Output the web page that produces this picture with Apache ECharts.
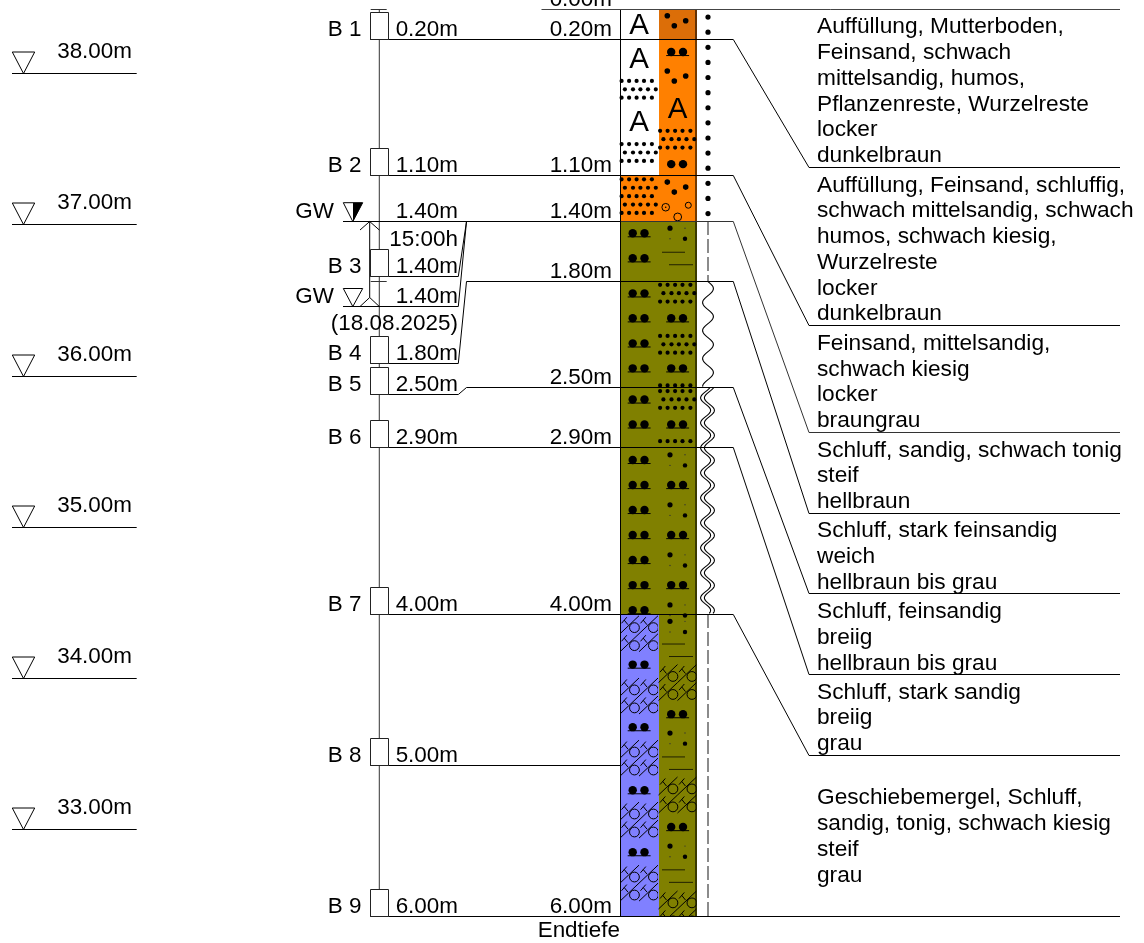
<!DOCTYPE html>
<html><head><meta charset="utf-8">
<style>html,body{margin:0;padding:0;background:#fff}#c{width:1144px;height:943px}</style>
<script src="https://cdn.jsdelivr.net/npm/echarts@6/dist/echarts.min.js"></script>
</head><body><div id="c"></div>
<script>
// ---------- data (depths in metres below ground) ----------
const groundLevel = 38.425;
const elevationLevels = [38, 37, 36, 35, 34, 33];
const layerTops  = [0, 0.2, 1.1, 1.4, 1.8, 2.5, 2.9, 4.0];
const layerBases = [0.2, 1.1, 1.4, 1.8, 2.5, 2.9, 4.0, 6.0];
const soilA = ['none','none','orange','olive','olive','olive','olive','blue'];
const soilB = ['darkorange','orange','orange','olive','olive','olive','olive','olive'];
const depthLabels = ['0.00m','0.20m','1.10m','1.40m','1.80m','2.50m','2.90m','4.00m','6.00m'];
const depthLabelValues = [0, 0.2, 1.1, 1.4, 1.8, 2.5, 2.9, 4.0, 6.0];
const leaderEnds = [1.043, 2.089, 2.796, 3.332, 3.866, 4.4, 4.933];
const descriptions = [
  ['Auffüllung, Mutterboden,','Feinsand, schwach','mittelsandig, humos,','Pflanzenreste, Wurzelreste','locker','dunkelbraun'],
  ['Auffüllung, Feinsand, schluffig,','schwach mittelsandig, schwach','humos, schwach kiesig,','Wurzelreste','locker','dunkelbraun'],
  ['Feinsand, mittelsandig,','schwach kiesig','locker','braungrau'],
  ['Schluff, sandig, schwach tonig','steif','hellbraun'],
  ['Schluff, stark feinsandig','weich','hellbraun bis grau'],
  ['Schluff, feinsandig','breiig','hellbraun bis grau'],
  ['Schluff, stark sandig','breiig','grau'],
  ['Geschiebemergel, Schluff,','sandig, tonig, schwach kiesig','steif','grau']
];
const descriptionAnchors = [1.043, 2.089, 2.796, 3.332, 3.866, 4.4, 4.933, 5.803];
const sampleNames = ['B 1','B 2','B 3','B 4','B 5','B 6','B 7','B 8','B 9'];
const sampleDepths = [0.2, 1.1, 1.4, 1.8, 2.5, 2.9, 4.0, 5.0, 6.0];
const sampleShownDepths = [0.2, 1.1, 1.769, 2.342, 2.546, 2.9, 4.0, 5.0, 6.0];
const sampleLabels = ['0.20m','1.10m','1.40m','1.80m','2.50m','2.90m','4.00m','5.00m','6.00m'];
const waterDepth = 1.4;
const waterRestShown = 1.964;
const waterTexts = ['1.40m','15:00h','1.40m','(18.08.2025)'];
const waterTextDepths = [1.4, 1.59, 1.964, 2.146];
const holeCaps = [0, 1.8];
const symbolsA = [['A',.097],['A',.318],['rows3',.528],['A',.737],['rows3',.946],['rows5',1.235],
  ['twoDots',1.48],['twoDots',1.646],['twoDots',1.878],['twoDots',2.043],['twoDots',2.209],['twoDots',2.374],
  ['twoDots',2.58],['twoDots',2.745],['twoDots',2.98],['twoDots',3.146],['twoDots',3.311],['twoDots',3.477],
  ['twoDots',3.642],['twoDots',3.808],['twoDots',3.974],
  ['hatch',4.13],['twoDots',4.334],['hatch',4.542],['twoDots',4.748],['hatch',4.953],['twoDots',5.165],
  ['hatch',5.363],['twoDots',5.575],['hatch',5.78]];
const symbolsB = [['grains',.041],['twoDots',.281],['grains',.407],['A',.649],['rows3',.858],['bigDots',1.023],
  ['grains',1.142],['gravel',1.295],['fine',1.447],['lines',1.606],['rows3',1.877],['twoDots',2.043],
  ['rows3',2.215],['twoDots',2.374],['rows1',2.487],['rows3',2.58],['twoDots',2.745],['rows1',2.856],
  ['fine',2.946],['twoDots',3.146],['fine',3.277],['twoDots',3.477],['fine',3.608],['twoDots',3.808],['fine',3.939],
  ['fine',4.048],['lines',4.198],['hatch',4.453],['twoDots',4.662],['fine',4.787],['lines',4.945],['hatch',5.197],
  ['twoDots',5.409],['fine',5.535],['lines',5.692],['hatch',5.951]];
const looseDots = [.05,.15,.25,.35,.45,.55,.65,.75,.85,.95,1.05,1.15,1.25,1.35];
const dashedRanges = [[1.4,1.8],[4.0,6.0]];
const singleWaveRanges = [[1.8,2.5]];
const doubleWaveRanges = [[2.5,4.0]];
const endLabel = 'Endtiefe';

// ---------- drawing ----------
const FONT = '"Liberation Sans", Arial, sans-serif', FS = 22.45, FSD = 22.7;
const SCALE = 151.15, TOP = 9.5;
const COL = {orange:'#FF8000', darkorange:'#DC6E08', olive:'#808000', blue:'#8080FF'};
const X = {a0:620.5, ab:659, b1:697, ca:639, cb:677.5, cons:708};
const crisp = v => Math.round(v - 0.5) + 0.5;
const poly = (pts, stroke='#000', w=1, dash) => ({type:'polyline', shape:{points:pts},
  style:{stroke, lineWidth:w, fill:'none', lineDash:dash||null, lineCap:'butt'}});
const dot = (x,y,r,fill='#000') => ({type:'circle', shape:{cx:x,cy:y,r}, style:{fill}});
const ring = (x,y,r,w=1) => ({type:'circle', shape:{cx:x,cy:y,r}, style:{fill:'none',stroke:'#000',lineWidth:w}});
function txt(x, base, s, align='left', size=FS){
  return {type:'text', x, y: base - 0.3465*size + 1.7, style:{text:s, font:size+'px '+FONT, fill:'#000',
    textAlign:align, align, textVerticalAlign:'middle', verticalAlign:'middle'}};
}
const rowOdd=[-17.4,-9.9,-2.4,5,12.9], rowEven=[-14.1,-6,1.4,9,16.8];
function dotRows(cx,cy,n,out){
  const sp=8.4;
  for(let i=0;i<n;i++){
    const y=cy+(i-(n-1)/2)*sp;
    (i%2?rowEven:rowOdd).forEach(o=>out.push(dot(cx+o,y,2.1)));
  }
}
function glyph(kind,cx,y,api,out){
  if(kind==='A'){ out.push(txt(cx,y+10.6,'A','center',29.5)); }
  else if(kind==='twoDots'||kind==='bigDots'){
    out.push(dot(cx-6.3,y,4.2),dot(cx+5.5,y,4.2));
    if(kind==='twoDots') out.push(poly([[cx-11.3,y+3.6],[cx+11.6,y+3.6]],'#000',1));
  }
  else if(kind==='grains'){ out.push(dot(cx-10.2,y,2.8),dot(cx-3.2,y+10,2.8),dot(cx+8.2,y+5,2.8)); }
  else if(kind==='gravel'){
    out.push(ring(cx-11.8,y+2,3.8),dot(cx-11.8,y+2,.8),ring(cx+10.8,y,3),ring(cx+.2,y+11.7,3.9));
  }
  else if(kind==='fine'){
    out.push(dot(cx-7.5,y,2.6),dot(cx+7.5,y+10.6,2.2),dot(cx+7.5,y,.7,'#333'),dot(cx-7.5,y+10.6,.7,'#333'));
  }
  else if(kind==='lines'){
    const c='rgba(0,0,0,.75)';
    out.push(poly([[cx-15.5,y],[cx+7.5,y]],c,1),poly([[cx-8.5,y+12.5],[cx+15.5,y+12.5]],c,1));
  }
  else if(kind==='rows1') dotRows(cx,y,1,out);
  else if(kind==='rows3') dotRows(cx,y,3,out);
  else if(kind==='rows5') dotRows(cx,y,5,out);
  else if(kind==='hatch'){
    const w=19,h=18,x0=cx-19,y0=y-18,children=[];
    for(let r=0;r<2;r++)for(let c=0;c<2;c++){
      const l=x0+c*w,t=y0+r*h;
      children.push(poly([[l,t+h],[l+w,t]],'#000',1));
      children.push(ring(l+.76*w,t+.66*h,4.9,1));
      children.push(poly([[l+.42*w,t+.5*h],[l+.22*w,t+.24*h]],'#000',1));
      children.push(poly([[l+.08*w,t+.42*h],[l+.36*w,t+.08*h]],'#000',1));
    }
    const bottom=api.coord([0,6])[1];
    out.push({type:'group',children,
      clipPath:{type:'rect',shape:{x:x0-2,y:y0-2,width:40,height:Math.min(bottom,y+20)-y0+2}}});
  }
}
function wave(api,x0,d0,d1,period,amp,shift,useCos){
  const y0=api.coord([0,d0])[1], y1=api.coord([0,d1])[1], pts=[];
  for(let y=y0;y<=y1;y+=1){
    const p=2*Math.PI*(y-y0-shift)/period;
    pts.push([x0+amp*(useCos?Math.cos(p):Math.sin(p)),y]);
  }
  return poly(pts,'#000',1.1);
}
let zc=1;
function series(name,items,draw){
  return {type:'custom',name,coordinateSystem:'cartesian2d',silent:true,animation:false,clip:false,z:zc++,
    data:items.map((_,i)=>[i,0]),encode:{x:0,y:1},
    renderItem:(p,api)=>({type:'group',children:draw(items[p.dataIndex],p.dataIndex,api)})};
}
const yOf=(api,d)=>api.coord([0,d])[1];
const yL=(api,d)=>crisp(yOf(api,d));
const yR=(api,d)=>Math.round(yOf(api,d));

const opt={
  backgroundColor:'#fff',animation:false,
  grid:{left:0,right:0,top:0,bottom:0,containLabel:false},
  xAxis:{type:'value',min:0,max:1144,show:false},
  yAxis:{type:'value',inverse:true,min:-TOP/SCALE,max:(943-TOP)/SCALE,show:false},
  series:[
    series('Kote',elevationLevels,(e,i,api)=>{
      const y=yL(api,groundLevel-e);
      return [poly([[12,y],[136.7,y]]),
        poly([[12.3,y-21.5],[34.7,y-21.5],[23.5,y],[12.3,y-21.5]],'#000',1),
        txt(132,y-15.6,e.toFixed(2)+'m','right')];
    }),
    series('Bohrachse',[0],(_,i,api)=>[poly([[379.3,yL(api,0)],[379.3,yL(api,6)]],'#333',1)]),
    series('Schicht A',layerTops,(t,i,api)=>{
      const k=soilA[i]; if(k==='none')return [];
      const a=yR(api,t),b=yR(api,layerBases[i]);
      return [{type:'rect',shape:{x:621,y:a,width:X.ab-621,height:b-a},style:{fill:COL[k]}}];
    }),
    series('Schicht B',layerTops,(t,i,api)=>{
      const a=yR(api,t),b=yR(api,layerBases[i]);
      return [{type:'rect',shape:{x:X.ab,y:a,width:X.b1-X.ab,height:b-a},style:{fill:COL[soilB[i]]}}];
    }),
    series('Symbole A',symbolsA,(s,i,api)=>{const o=[];glyph(s[0],X.ca,yOf(api,s[1]),api,o);return o;}),
    series('Symbole B',symbolsB,(s,i,api)=>{const o=[];glyph(s[0],X.cb,yOf(api,s[1]),api,o);return o;}),
    series('Rand',[0],(_,i,api)=>{
      const a=yR(api,0),b=yR(api,6);
      return [poly([[X.a0,a],[X.a0,b]],'#000',1),poly([[696,a],[696,b]],'rgba(0,0,0,.55)',2)];
    }),
    series('Konsistenz Punkte',looseDots,(d,i,api)=>[dot(X.cons,yOf(api,d),2.6)]),
    series('Konsistenz Strich',dashedRanges,(r,i,api)=>[poly([[X.cons,yOf(api,r[0])],[X.cons,yOf(api,r[1])]],'#666',1.5,[14,4])]),
    series('Konsistenz Welle',singleWaveRanges,(r,i,api)=>[wave(api,X.cons,r[0],r[1],28,5.4,0,false)]),
    series('Konsistenz Doppelwelle',doubleWaveRanges,(r,i,api)=>[
      wave(api,705.6,r[0],r[1],25,5,23,true),wave(api,709.4,r[0],r[1],25,5,23,true)]),
    series('Schichtlinien',layerBases,(d,i,api)=>{
      const y=yL(api,d);
      if(i===7) return [];
      const e=yL(api,leaderEnds[i]);
      return [poly([[X.a0,y],[733.3,y],[809,e],[1120,e]],d===1.4?'#333':'#000',1)];
    }),
    series('Oberkante',[0],(d,i,api)=>[poly([[541.5,yL(api,d)],[1120,yL(api,d)]],'#444',1)]),
    series('Grundwasserpfeil',[waterDepth],(d,i,api)=>{
      const y=yL(api,d),y2=yL(api,waterRestShown);
      return [poly([[369.7,y],[369.7,y2-9]]),poly([[360,y+8.5],[369.7,y],[379.3,y+8.5]]),
        poly([[360,y2],[369.7,y2-9],[379.3,y2]])];
    }),
    series('Probenleitung',sampleDepths,(d,i,api)=>{
      const s=yL(api,sampleShownDepths[i]),t=yL(api,d);
      const end=i===8?1120:X.a0;
      const pts=s===t?[[370,s],[end,t]]:[[370,s],[458.3,s],[466.5,t],[end,t]];
      return [poly(pts,'#000',1)];
    }),
    series('Grundwasser',[waterDepth],(d,i,api)=>{
      const y=yL(api,d),y2=yL(api,waterRestShown);
      return [poly([[343,y],[X.a0,y]],'#000',1),poly([[343,y2],[458.3,y2],[466.5,y],[473,y]],'#000',1),
        poly([[343.3,y-18.8],[362.7,y-18.8],[352.8,y],[343.3,y-18.8]]),
        {type:'polygon',shape:{points:[[353,y-18.8],[362.7,y-18.8],[353,y]]},style:{fill:'#000'}},
        poly([[343.3,y2-18],[362.7,y2-18],[352.8,y2],[343.3,y2-18]]),
        txt(334,y-3.7,'GW','right'),txt(334,y2-3.7,'GW','right')];
    }),
    series('Kappen',holeCaps,(d,i,api)=>[poly([[370.7,yL(api,d)],[386.7,yL(api,d)]],'#333',1)]),
    series('Proben',sampleDepths,(d,i,api)=>{
      const y=yL(api,sampleShownDepths[i]);
      return [{type:'rect',shape:{x:370.5,y:y-27,width:18,height:27},style:{fill:'#fff',stroke:'#222',lineWidth:1}},
        txt(361.5,y-3.5,sampleNames[i],'right'),txt(458,y-3.5,sampleLabels[i],'right')];
    }),
    series('Wasserstand Texte',waterTexts,(s,i,api)=>{
      const base=yOf(api,waterTextDepths[i])-3.5;
      return [txt(458,base,s,'right')];
    }),
    series('Tiefen',depthLabels,(s,i,api)=>[txt(612,yL(api,depthLabelValues[i])-3.5,s,'right')]),
    series('Endtiefe',[endLabel],(s,i,api)=>[txt(620,yL(api,6)+20.5,s,'right')]),
    series('Beschreibung',descriptions,(lines,i,api)=>{
      const bottom=yOf(api,descriptionAnchors[i])-5, n=lines.length;
      return lines.map((l,j)=>txt(817,bottom-(n-1-j)*25.75,l,'left',FSD));
    })
  ]
};
echarts.init(document.getElementById('c'),null,{renderer:'canvas',width:1144,height:943}).setOption(opt);
</script></body></html>
